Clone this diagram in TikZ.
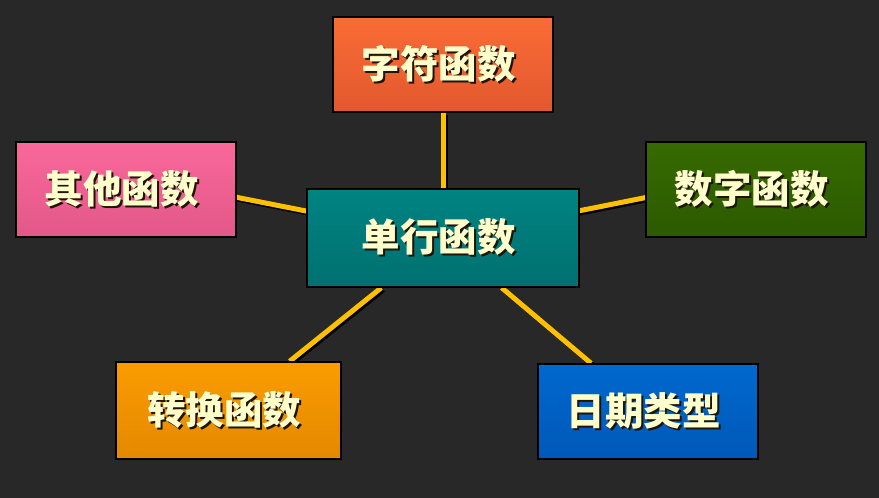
\documentclass[tikz,border=0pt]{standalone}
\usepackage{fontspec}
\newfontfamily\cjk{Noto Sans CJK SC}
\usetikzlibrary{backgrounds}

\definecolor{board}{RGB}{40,40,40}
\definecolor{gold}{RGB}{255,192,0}
\definecolor{cream}{RGB}{255,255,204}
\definecolor{txtshadow}{RGB}{30,20,10}

\newcommand{\shadowtext}[1]{\makebox[0pt][l]{\hspace{2pt}\raisebox{-2pt}{\textcolor{txtshadow}{#1}}}#1}

\tikzset{
	fnbox/.style={shape=rectangle, draw=black, line width=1.5pt, align=center,
		minimum width=220pt, minimum height=95pt, inner sep=0pt, text=cream,
		font=\cjk\bfseries\fontsize{38.5}{38.5}\selectfont},
	link/.style={draw=gold, line width=5pt,
		preaction={draw=black, line width=5pt, transform canvas={shift={(2pt,-2pt)}}}}
}

\begin{document}
\begin{tikzpicture}[x=1pt,y=-1pt]
	\useasboundingbox (0,0) rectangle (879,498);
	
	\node (z1)[fnbox, minimum width=272pt, minimum height=98pt, top color={rgb,255:red,0;green,132;blue,130}, bottom color={rgb,255:red,0;green,112;blue,112}] 
	at (443,238){
		\shadowtext{单行函数}
	};
	
	\node (z2)[fnbox, top color={rgb,255:red,250;green,108;blue,54}, bottom color={rgb,255:red,226;green,88;blue,46}] 
	at (443,64.5){
		\shadowtext{字符函数}
	};
	
	\node (z3)[fnbox, top color={rgb,255:red,250;green,104;blue,154}, bottom color={rgb,255:red,226;green,88;blue,136}] 
	at (126,189.5){
		\shadowtext{其他函数}
	};
	
	\node (z4)[fnbox, top color={rgb,255:red,54;green,106;blue,0}, bottom color={rgb,255:red,44;green,90;blue,0}] 
	at (756,189.5){
		\shadowtext{数字函数}
	};
	
	\node (z5)[fnbox, minimum width=225pt, minimum height=97pt, top color={rgb,255:red,250;green,156;blue,0}, bottom color={rgb,255:red,228;green,136;blue,0}] 
	at (228.5,410.5){
		\shadowtext{转换函数}
	};
	
	\node (z6)[fnbox, top color={rgb,255:red,0;green,104;blue,206}, bottom color={rgb,255:red,0;green,88;blue,184}] 
	at (648,411.5){
		\shadowtext{日期类型}
	};
	
	\begin{scope}[on background layer]
		\fill[board] (0,0) rectangle (879,498);
		\draw[link] (z2) -- (z1);
		\draw[link] ([yshift=14pt]z3.center) -- (z1.center);
		\draw[link] ([yshift=14pt]z4.center) -- (z1.center);
		\draw[link] (z5) -- (z1);
		\draw[link] (z6) -- (z1);
	\end{scope}
\end{tikzpicture}
\end{document}
